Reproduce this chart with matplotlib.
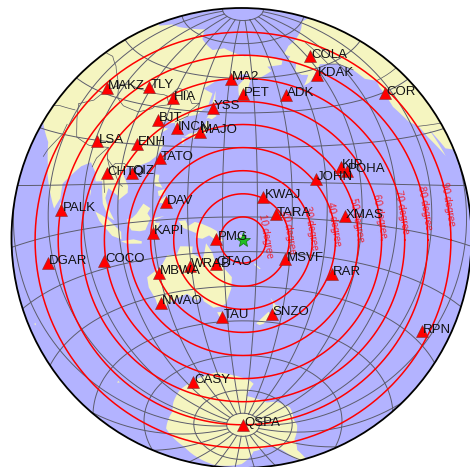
import matplotlib
matplotlib.use('Agg')
import matplotlib.pyplot as plt
from matplotlib.patches import Circle, Polygon
import numpy as np

plt.rcParams['font.family'] = ['Liberation Sans', 'DejaVu Sans']

# event and map settings
event_lat, event_lon = -10.0, 158.8
ring_degrees = [10, 20, 30, 40, 50, 60, 70, 80, 90]
parallels = [-85, -75, -60, -45, -30, -15, 0, 15, 30, 45, 60, 75, 85]
meridians = list(range(-180, 180, 15))

station_names = ['MAKZ', 'TLY', 'HIA', 'BJT', 'INCN', 'MAJO', 'YSS', 'MA2', 'PET', 'ADK', 'COLA',
                 'KDAK', 'COR', 'LSA', 'ENH', 'TATO', 'CHTO', 'QIZ', 'PALK', 'DAV', 'KAPI', 'PMG',
                 'WRAB', 'CTAO', 'MBWA', 'NWAO', 'TAU', 'SNZO', 'CASY', 'QSPA', 'DGAR', 'COCO',
                 'RPN', 'RAR', 'MSVF', 'XMAS', 'TARA', 'KWAJ', 'JOHN', 'KIP', 'POHA']
station_lat = [46.8, 51.68, 49.27, 40.02, 37.48, 36.55, 46.96, 59.58, 53.02, 51.88, 64.87,
               57.78, 44.59, 29.7, 30.27, 24.97, 18.81, 19.03, 7.27, 7.07, -5.01, -9.4,
               -19.93, -20.09, -21.16, -32.93, -42.91, -41.31, -66.28, -89.93, -7.41, -12.19,
               -27.13, -21.21, -17.74, 2.04, 1.35, 8.8, 16.73, 21.42, 19.76]
station_lon = [81.98, 103.64, 119.74, 116.17, 126.62, 138.2, 142.76, 150.77, 158.65, -176.68, -147.86,
               -152.58, -123.3, 91.15, 109.49, 121.5, 98.94, 109.84, 80.7, 125.58, 119.75, 147.15,
               134.36, 146.25, 119.73, 117.24, 147.32, 174.7, 110.53, 144.44, 72.45, 96.83,
               -109.33, -159.77, 178.05, -157.45, 172.92, 167.61, -169.53, -158.01, -155.53]

# land outlines, lon/lat
asia = [(40, 68), (60, 69), (68, 69), (73, 72), (80, 73), (90, 75), (104, 77.5), (113, 74), (130, 71),
        (140, 72.5), (150, 71), (160, 69.5), (170, 70), (180, 69), (-170, 66), (-172, 64.5), (177, 64.5),
        (179, 62.5), (170, 60), (164, 59.8), (163, 58), (162, 56), (160, 53), (158.5, 52), (156.7, 51),
        (156, 55), (156, 57), (160, 60), (163, 62), (157, 61.5), (155, 59.5), (143, 59.3), (135, 54.7),
        (141, 53), (140, 48), (135, 43.5), (130, 42.5), (127.5, 39.8), (129.4, 36), (126.5, 34.5),
        (126, 37), (125, 39.6), (121.5, 39), (122, 40.7), (118, 39), (119, 37.3), (122.5, 37), (119.5, 35),
        (121, 32), (122, 30), (120, 26), (117, 23.5), (114, 22.3), (110.5, 21), (108, 21.5), (106, 19),
        (109, 14), (109, 11.5), (105, 8.8), (105, 10.5), (100.5, 13.5), (99.5, 10), (100.5, 7),
        (103.5, 1.5), (101, 3), (98.5, 8), (97.5, 16), (94.5, 16), (94, 19), (91, 22.5), (87, 21),
        (80.3, 15.5), (80, 11), (77.5, 8), (73, 18), (72, 21), (69, 27), (62, 32), (45, 45)]
north_america = [(-167, 65.5), (-162, 67), (-166, 68.5), (-157, 71), (-118, 75), (-95, 72),
                 (-95, 35), (-100, 27), (-104, 24), (-109, 25), (-113, 31), (-110, 23), (-115, 29),
                 (-117, 32.5), (-120.5, 34.5), (-124, 40), (-124, 47), (-123, 49), (-128, 51), (-130, 55),
                 (-135, 58.7), (-140, 60), (-146, 61), (-152, 59), (-154, 58), (-160, 55.5), (-164, 54.7),
                 (-158, 58.5), (-162, 59), (-165, 61), (-161, 64)]
australia = [(114, -22), (113.5, -26), (115, -31), (115, -34.5), (118, -35), (124, -33), (131, -31.5),
             (135, -35), (138, -33), (138.5, -35.5), (143, -38.7), (147, -38.5), (150, -37.3), (153, -31),
             (153.5, -26), (149, -21), (146, -18.5), (145, -15), (142.5, -11), (141.5, -15), (140.5, -17.5),
             (136, -15), (136.5, -12), (131, -11.5), (129, -15), (125, -14.5), (122, -18), (118, -20.3)]
new_guinea = [(131, -1), (134, -0.8), (135, -3.3), (138, -1.7), (141, -2.6), (145, -4.5), (147.5, -6),
              (148, -8), (150.5, -10.5), (147, -10), (144, -7.7), (141, -9), (138, -8.3), (138.5, -6.5),
              (133, -4)]
borneo = [(109, 1.5), (111, 1.7), (113, 3.2), (116, 7), (119, 5), (117.7, 3), (119, 1), (116.5, -3.5),
          (114, -3.7), (110.5, -3), (109, 0)]
sumatra = [(95.3, 5.5), (98, 4), (101, 2), (104, -1), (106, -3), (105.8, -5.8), (102, -4), (100, -1.5), (97, 2)]
java = [(105.5, -6.5), (108.5, -6.5), (111, -6.5), (114.5, -7.7), (114.3, -8.6), (108, -7.8)]
sulawesi = [(119.5, 0), (121, 1), (125, 1.5), (121, 0.3), (121, -1), (123, -1), (122, -3), (123, -5),
            (121, -3), (120.5, -5.5), (119.5, -5.5), (119, -3)]
luzon = [(120.5, 18.5), (122.2, 18.3), (122, 16), (124, 13), (121, 13.8), (120, 15.5)]
mindanao = [(122, 7), (125.5, 9.7), (126.5, 7.5), (125.5, 5.8), (124, 6.8)]
visayas = [(122, 11.8), (125.3, 12.5), (125, 10.2), (122.5, 9.7)]
taiwan = [(121, 25.2), (122, 25), (120.8, 22), (120.1, 23)]
hainan = [(109, 20), (111, 20), (110, 18.2), (108.7, 18.6)]
sri_lanka = [(80, 9.7), (81.8, 7.5), (80.5, 6), (79.8, 7.5)]
sakhalin = [(142.5, 54.3), (143.3, 50), (143.5, 46.5), (142, 46), (142, 50)]
hokkaido = [(140.2, 42), (141.7, 45.4), (145.3, 43.5), (143, 42), (141, 42.5)]
honshu = [(131, 34), (133, 35.5), (136, 36), (137, 37), (140, 39), (140.5, 41.3), (141.5, 41), (142, 39),
          (140.8, 35.5), (138, 34.7), (135.5, 33.6), (133, 34.3)]
kyushu = [(130, 33.5), (131.8, 33.5), (131, 31), (130, 31.5)]
tasmania = [(144.7, -40.8), (148.2, -40.8), (147.8, -43), (146, -43.6)]
nz_north = [(172.8, -34.5), (176, -37.5), (178.4, -37.7), (177, -39.5), (175.3, -41.6), (174.8, -39.5), (174.5, -37)]
nz_south = [(172.7, -40.6), (174.3, -41.7), (172.8, -43.7), (170.8, -45.9), (168.5, -46.6), (166.5, -46), (170, -43)]
antarctica = [(-180, -78), (-160, -78), (-150, -76), (-130, -74), (-110, -74.5), (-100, -73.5), (-80, -73),
              (-68, -70), (-60, -63.5), (-58, -64), (-62, -74), (-60, -78), (-35, -78), (-20, -73),
              (0, -70.5), (30, -69.5), (50, -66.5), (70, -68), (80, -67), (95, -66), (110, -66), (135, -66),
              (150, -68.5), (165, -70.5), (171, -72), (164, -77.5)]
small_islands = [[(164, -20), (167, -22.3), (166.5, -22.5), (164, -20.7)],
                 [(156, -7), (160, -9), (161, -10.5), (159, -9.7)],
                 [(167, -15), (168, -16.5), (167.3, -16.3)],
                 [(177.3, -17.5), (178.6, -17.8), (178, -18.3)],
                 [(69, -49), (70.5, -49), (70, -49.7)],
                 [(57, -20), (57.8, -20), (57.4, -20.6)],
                 [(92.5, 13), (93, 13), (93, 11)]]
land_shapes = [asia, north_america, australia, new_guinea, borneo, sumatra, java, sulawesi, luzon, mindanao,
               visayas, taiwan, hainan, sri_lanka, sakhalin, hokkaido, honshu, kyushu, tasmania, nz_north,
               nz_south, antarctica] + small_islands

borders = [[(50, 51), (60, 51), (61, 54), (70, 55), (77, 53.5), (83, 51), (87, 49)],
           [(87, 49), (92, 50.5), (98, 50), (102, 50), (107, 49.7), (114, 50), (117, 49.6)],
           [(87, 49), (91, 45), (96, 43), (105, 42), (111, 44), (112, 45), (119, 46.5), (116, 49.7)],
           [(117, 49.6), (120, 53.5), (126, 53), (131, 48), (135, 48.5), (131, 45), (130.5, 42.5)],
           [(87, 49), (82, 45), (80, 42), (74, 39.5)],
           [(74, 39.5), (79, 33), (81, 30), (88, 28), (92, 28), (97, 28), (98, 24), (101, 21.5), (102, 22.5),
            (106, 22.5), (108, 21.5)],
           [(92, 21), (93, 24), (97, 28)], [(98, 24), (100, 20.5), (98, 17), (99, 12)],
           [(101, 21.5), (105, 15), (106.5, 14)], [(74, 33), (74, 30), (70, 25), (69, 23)],
           [(61, 30), (61, 36), (66, 37), (74, 37.5)], [(125, 40), (130, 42.5)],
           [(-141, 69.7), (-141, 60), (-135, 58.7), (-130, 55)], [(-123, 49), (-95, 49)],
           [(-117, 32.5), (-106, 31.5)]]


def aeqd(lon, lat):
    # azimuthal equidistant, x and y in degrees of arc from the event
    lam = np.radians(np.asarray(lon, dtype=float) - event_lon)
    phi = np.radians(np.asarray(lat, dtype=float))
    phi0 = np.radians(event_lat)
    cos_c = np.sin(phi0) * np.sin(phi) + np.cos(phi0) * np.cos(phi) * np.cos(lam)
    c = np.arccos(np.clip(cos_c, -1, 1))
    k = np.where(c < 1e-9, 1.0, c / np.where(np.sin(c) == 0, 1, np.sin(c)))
    x = k * np.cos(phi) * np.sin(lam)
    y = k * (np.cos(phi0) * np.sin(phi) - np.sin(phi0) * np.cos(phi) * np.cos(lam))
    return np.degrees(x), np.degrees(y)


def densify(points, n=8):
    lon = []
    lat = []
    pts = list(points)
    for (a, b), (c, d) in zip(pts[:-1], pts[1:]):
        dl = (c - a + 180) % 360 - 180
        lon.extend(a + dl * t for t in np.linspace(0, 1, n, endpoint=False))
        lat.extend(b + (d - b) * t for t in np.linspace(0, 1, n, endpoint=False))
    lon.append(pts[-1][0])
    lat.append(pts[-1][1])
    return aeqd(lon, lat)


px_per_deg = 2.31
cx, cy = 243.0, 240.0
rim_xy = (-1.5 / px_per_deg, 2.0 / px_per_deg)
rim_r = 230 / px_per_deg
grid_color = '#5c5c6c'

fig = plt.figure(figsize=(4.70, 4.67), dpi=100)
ax = fig.add_axes([0, 0, 1, 1])
ax.set_xlim(-cx / px_per_deg, (470 - cx) / px_per_deg)
ax.set_ylim((cy - 467) / px_per_deg, cy / px_per_deg)
ax.axis('off')

rim = Circle(rim_xy, rim_r, transform=ax.transData, fc='#B3B3FF', ec='none', zorder=1)
ax.add_patch(rim)

for shape in land_shapes:
    x, y = densify(list(shape) + [shape[0]])
    patch = Polygon(np.column_stack([x, y]), closed=True, fc='#F5F5C0', ec='none', zorder=2)
    ax.add_patch(patch)
    patch.set_clip_path(rim)

for line in borders:
    x, y = densify(line)
    ax.plot(x, y, color='#555560', lw=0.5, zorder=3, clip_path=rim)

for lat in parallels:
    lons = np.linspace(-180, 180, 361)
    x, y = aeqd(lons, np.full_like(lons, lat))
    ax.plot(x, y, color=grid_color, lw=0.7, zorder=4, clip_path=rim)
for lon in meridians:
    lats = np.linspace(-85, 85, 171)
    x, y = aeqd(np.full_like(lats, lon), lats)
    ax.plot(x, y, color=grid_color, lw=0.7, zorder=4, clip_path=rim)

theta = np.linspace(0, 2 * np.pi, 361)
label_angle = np.radians(10)
for d in ring_degrees:
    ax.plot(d * np.cos(theta), d * np.sin(theta), color='red', lw=1.1, zorder=5, clip_path=rim)
    ax.text(d * np.cos(label_angle), d * np.sin(label_angle), '%d degree' % d, color='red', alpha=0.8,
            fontsize=7.2, rotation=-80, rotation_mode='anchor', ha='center', va='center', zorder=6)

ax.add_patch(Circle(rim_xy, rim_r, fc='none', ec='black', lw=1.3, zorder=7))

sx, sy = aeqd(station_lon, station_lat)
ax.plot(sx, sy, '^', color='red', ms=8, mec='#803030', mew=0.4, zorder=8)
for name, x, y in zip(station_names, sx, sy):
    ax.annotate(name, (x, y), xytext=(0.7, -1), textcoords='offset points', fontsize=9.5,
                color='#111111', ha='left', va='baseline', zorder=9)
ax.plot([0], [0], '*', color='#20C020', ms=11, mec='#107010', mew=0.5, zorder=8)

fig.savefig('out.png', dpi=100)
